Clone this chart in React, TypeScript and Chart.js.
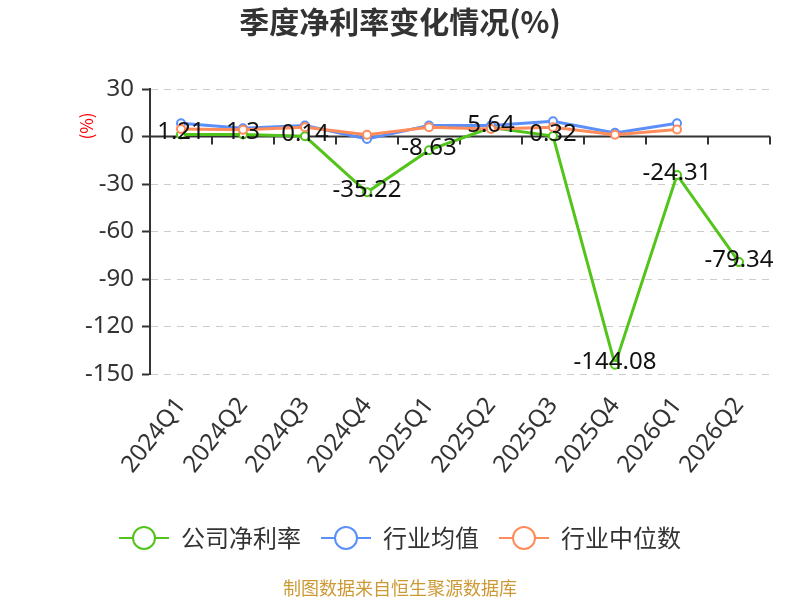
import React, { useEffect, useRef } from "react";
import { Chart, registerables } from "chart.js";

Chart.register(...registerables);

const categories = ["2024Q1", "2024Q2", "2024Q3", "2024Q4", "2025Q1", "2025Q2", "2025Q3", "2025Q4", "2026Q1", "2026Q2"];
const companyNetMargin = [1.21, 1.3, 0.14, -35.22, -8.63, 5.64, 0.32, -144.08, -24.31, -79.34];
const industryAverage = [8.4, 5.2, 6.9, -1.5, 7.0, 6.9, 9.6, 2.3, 8.4, null];
const industryMedian = [4.8, 4.2, 5.9, 1.1, 5.9, 4.8, 5.9, 1.1, 4.4, null];
const seriesNames = ["公司净利率", "行业均值", "行业中位数"];
const seriesColors = ["#52c41a", "#5b8ff9", "#ff8c5a"];
const yTicks = { min: -150, max: 30, step: 30 };
const titleText = "季度净利率变化情况(%)";
const unitText = "(%)";
const footerText = "制图数据来自恒生聚源数据库";

const FONT = '"Noto Sans", "Noto Sans CJK SC", sans-serif';
const CJK = '"Noto Sans CJK SC", "Noto Sans", sans-serif';

const decorPlugin = {
  id: "decor",
  beforeDatasetsDraw(chart: any) {
    const { ctx, chartArea } = chart;
    const x = chart.scales.x;
    const y = chart.scales.y;
    const y0 = y.getPixelForValue(0);
    ctx.save();
    ctx.strokeStyle = "#333";
    ctx.lineWidth = 2;
    ctx.beginPath();
    ctx.moveTo(chartArea.left, y0);
    ctx.lineTo(chartArea.right, y0);
    ctx.stroke();
    const n = categories.length;
    const step = n > 1 ? x.getPixelForValue(1) - x.getPixelForValue(0) : 0;
    for (let i = 0; i <= n; i++) {
      const px = x.getPixelForValue(0) - step / 2 + i * step;
      ctx.beginPath();
      ctx.moveTo(px, y0);
      ctx.lineTo(px, y0 + 8);
      ctx.stroke();
    }
    ctx.restore();
  },
  afterDatasetsDraw(chart: any) {
    const { ctx } = chart;
    const meta = chart.getDatasetMeta(0);
    ctx.save();
    ctx.font = `24px ${FONT}`;
    ctx.fillStyle = "#111";
    ctx.textAlign = "center";
    ctx.textBaseline = "middle";
    meta.data.forEach((pt: any, i: number) => {
      const v = companyNetMargin[i];
      if (v == null) return;
      ctx.fillText(String(v), pt.x, pt.y - 2);
    });
    ctx.restore();
  },
  afterDraw(chart: any) {
    const { ctx, chartArea, width } = chart;
    ctx.save();
    // title
    ctx.font = `bold 30px ${CJK}`;
    ctx.fillStyle = "#333";
    ctx.textAlign = "center";
    ctx.textBaseline = "middle";
    ctx.fillText(titleText, width / 2, 22);
    // unit
    ctx.save();
    ctx.translate(chartArea.left - 63, chartArea.top + 37);
    ctx.rotate(-Math.PI / 2);
    ctx.font = `17px ${CJK}`;
    ctx.fillStyle = "#ff0000";
    ctx.textAlign = "center";
    ctx.textBaseline = "middle";
    ctx.fillText(unitText, 0, 0);
    ctx.restore();
    // legend
    ctx.font = `24px ${CJK}`;
    const iconW = 50;
    const gapIcon = 12;
    const gapItem = 20;
    const widths = seriesNames.map((s) => ctx.measureText(s).width);
    const total = widths.reduce((a, b) => a + b, 0) + seriesNames.length * (iconW + gapIcon) + (seriesNames.length - 1) * gapItem;
    let lx = width / 2 - total / 2;
    const ly = 538;
    seriesNames.forEach((name, i) => {
      ctx.strokeStyle = seriesColors[i];
      ctx.lineWidth = 2;
      ctx.beginPath();
      ctx.moveTo(lx, ly);
      ctx.lineTo(lx + iconW, ly);
      ctx.stroke();
      ctx.beginPath();
      ctx.arc(lx + iconW / 2, ly, 11, 0, Math.PI * 2);
      ctx.fillStyle = "#fff";
      ctx.fill();
      ctx.stroke();
      ctx.fillStyle = "#333";
      ctx.textAlign = "left";
      ctx.textBaseline = "middle";
      ctx.fillText(name, lx + iconW + gapIcon, ly);
      lx += iconW + gapIcon + widths[i] + gapItem;
    });
    // footer
    ctx.font = `18px ${CJK}`;
    ctx.fillStyle = "#cc9a35";
    ctx.textAlign = "center";
    ctx.textBaseline = "middle";
    ctx.fillText(footerText, width / 2, 588);
    ctx.restore();
  },
};

export default function App() {
  const ref = useRef<HTMLCanvasElement | null>(null);
  useEffect(() => {
    if (!ref.current) return;
    const mk = (label: string, data: (number | null)[], color: string, order: number) => ({
      label,
      data,
      borderColor: color,
      backgroundColor: "#fff",
      pointBackgroundColor: "#fff",
      pointBorderColor: color,
      pointRadius: 4,
      pointBorderWidth: 2,
      borderWidth: 3,
      tension: 0,
      order,
      spanGaps: false,
    });
    const chart = new Chart(ref.current, {
      type: "line",
      data: {
        labels: categories,
        datasets: [
          mk(seriesNames[0], companyNetMargin, seriesColors[0], 2),
          mk(seriesNames[1], industryAverage, seriesColors[1], 1),
          mk(seriesNames[2], industryMedian, seriesColors[2], 0),
        ],
      },
      options: {
        responsive: false,
        animation: false,
        devicePixelRatio: 1,
        layout: { padding: { top: 89, right: 30, left: 0, bottom: 0 } },
        plugins: {
          legend: { display: false },
          title: { display: false },
          tooltip: { enabled: false },
        },
        scales: {
          x: {
            type: "category",
            offset: true,
            grid: { display: false },
            border: { display: false },
            ticks: {
              autoSkip: false,
              maxRotation: 52,
              minRotation: 52,
              padding: 10,
              color: "#333",
              font: { size: 24, family: FONT },
            },
            afterFit(scale: any) {
              scale.height = 226;
            },
          },
          y: {
            min: yTicks.min,
            max: yTicks.max,
            ticks: {
              stepSize: yTicks.step,
              padding: 8,
              color: "#333",
              font: { size: 24, family: FONT },
            },
            grid: {
              color: (c: any) => (c.tick && c.tick.value === 0 ? "rgba(0,0,0,0)" : "#cccccc"),
              lineWidth: 1,
              tickColor: "#333",
              tickWidth: 2,
              tickLength: 8,
              tickBorderDash: [],
            },
            border: { display: true, color: "#333", width: 2, dash: [7, 6] as any },
            afterFit(scale: any) {
              scale.width = 150;
            },
          },
        },
      },
      plugins: [decorPlugin],
    } as any);
    return () => chart.destroy();
  }, []);
  return (
    <div style={{ position: "fixed", left: 0, top: 0, width: 800, height: 600, background: "#fff" }}>
      <canvas ref={ref} width={800} height={600} style={{ width: 800, height: 600 }} />
    </div>
  );
}
